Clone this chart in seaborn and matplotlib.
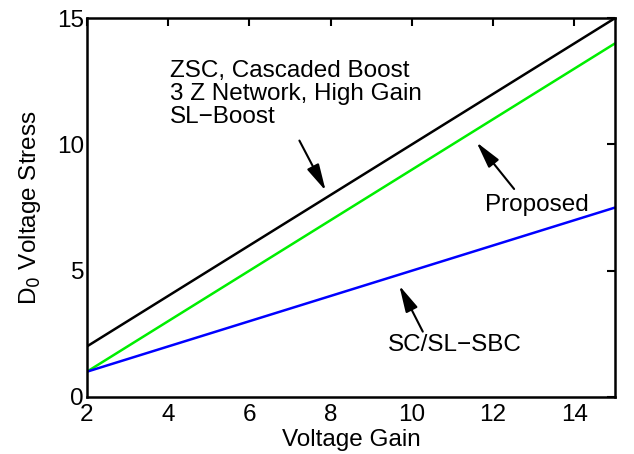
import matplotlib
matplotlib.use("Agg")
import matplotlib.pyplot as plt
import seaborn as sns
import pandas as pd

gain = [2, 3, 4, 5, 6, 7, 8, 9, 10, 11, 12, 13, 14, 15]
stress_conventional = [2, 3, 4, 5, 6, 7, 8, 9, 10, 11, 12, 13, 14, 15]
stress_proposed = [1, 2, 3, 4, 5, 6, 7, 8, 9, 10, 11, 12, 13, 14]
stress_scsl = [1, 1.5, 2, 2.5, 3, 3.5, 4, 4.5, 5, 5.5, 6, 6.5, 7, 7.5]
series_names = ["Conventional", "Proposed", "SC/SL-SBC"]
series_colors = ["#000000", "#00ee00", "#0000ff"]

df = pd.concat([
    pd.DataFrame({"gain": gain, "stress": stress_conventional, "series": series_names[0]}),
    pd.DataFrame({"gain": gain, "stress": stress_proposed, "series": series_names[1]}),
    pd.DataFrame({"gain": gain, "stress": stress_scsl, "series": series_names[2]}),
])

sns.set_style("white")
plt.rcParams["font.family"] = ["Liberation Sans", "DejaVu Sans"]
plt.rcParams["font.size"] = 17.5
for k in ["text.color", "axes.labelcolor", "xtick.color", "ytick.color"]:
    plt.rcParams[k] = "black"

fig = plt.figure(figsize=(6.34, 4.54), dpi=100)
ax = fig.add_axes([0.137, 0.1256, 0.833, 0.8344])

sns.lineplot(data=df, x="gain", y="stress", hue="series", palette=dict(zip(series_names, series_colors)),
             linewidth=1.8, legend=False, ax=ax)

ax.set_xlim(2, 15)
ax.set_ylim(0, 15)
ax.set_xticks([2, 4, 6, 8, 10, 12, 14])
ax.set_yticks([0, 5, 10, 15])
ax.tick_params(axis="x", pad=5)
ax.tick_params(axis="y", pad=2)
ax.tick_params(direction="in", length=6, width=1.5, top=True, right=True, labelsize=17.5)
for s in ax.spines.values():
    s.set_visible(True)
    s.set_linewidth(1.8)
    s.set_color("black")
ax.set_xlabel("Voltage Gain", fontsize=17.5, labelpad=2)
ax.set_ylabel("D$_0$ Voltage Stress", fontsize=17.5, labelpad=10)

arrow = dict(arrowstyle="-|>,head_length=0.9,head_width=0.22", color="black", lw=1.5, mutation_scale=18)
ax.text(4.04, 13.35, "ZSC, Cascaded Boost\n3 Z Network, High Gain\nSL\u2212Boost",
        ha="left", va="top", fontsize=17.5, linespacing=1.05)
ax.annotate("", xy=(7.91, 8.07), xytext=(7.2, 10.25), arrowprops=arrow)
ax.annotate("", xy=(11.55, 10.17), xytext=(12.56, 8.15), arrowprops=arrow)
ax.text(13.08, 7.6, "Proposed", ha="center", va="center", fontsize=17.5)
ax.annotate("", xy=(9.66, 4.51), xytext=(10.3, 2.49), arrowprops=arrow)
ax.text(11.06, 2.05, "SC/SL\u2212SBC", ha="center", va="center", fontsize=17.5)

fig.savefig("out.png", dpi=100)
